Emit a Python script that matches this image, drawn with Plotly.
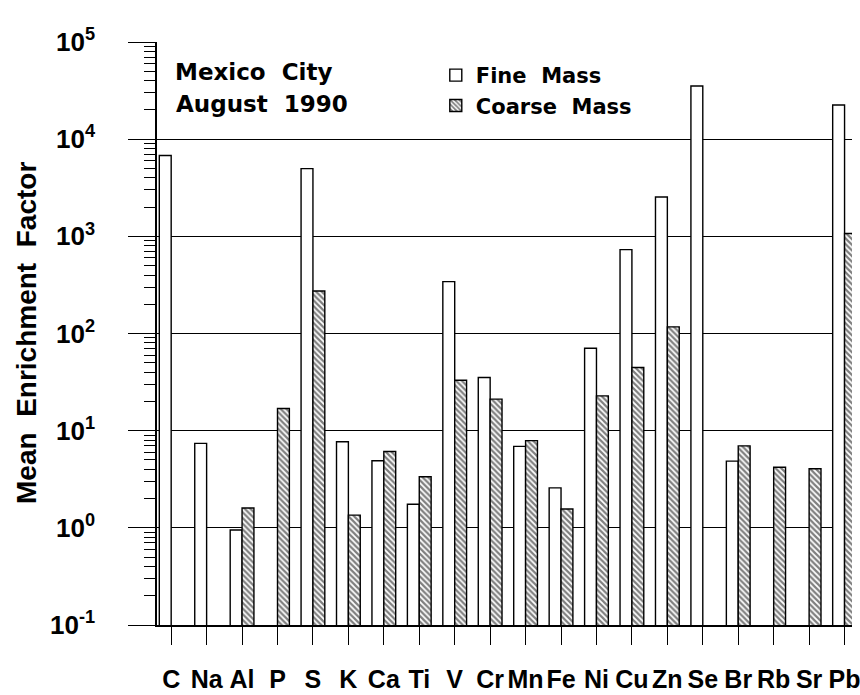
import plotly.graph_objects as go

elements = ["C", "Na", "Al", "P", "S", "K", "Ca", "Ti", "V", "Cr",
            "Mn", "Fe", "Ni", "Cu", "Zn", "Se", "Br", "Rb", "Sr", "Pb"]
fine_mass = [6800, 7.4, 0.95, None, 4970, 7.7, 4.9, 1.75, 342, 35.2,
             6.9, 2.58, 70.6, 730, 2540, 35300, 4.86, None, None, 22500]
coarse_mass = [None, None, 1.6, 16.9, 274, 1.35, 6.1, 3.35, 33, 21.1,
               7.9, 1.56, 22.8, 44.6, 117, None, 6.98, 4.2, 4.05, 1070]

major_vals = [0.1, 1, 10, 100, 1000, 10000, 100000]
major_text = ["10<sup>-1</sup>", "10<sup>0</sup>", "10<sup>1</sup>", "10<sup>2</sup>",
              "10<sup>3</sup>", "10<sup>4</sup>", "10<sup>5</sup>"]
minor_vals = [m * d for d in [0.1, 1, 10, 100, 1000, 10000] for m in range(2, 10)]

W, H = 860, 695
L, R, T, B = 157, 0, 42, 70
pw, ph = W - L - R, H - T - B
def px(x): return (x - L) / pw
def py(y): return (H - B - y) / ph

BOLD = "Liberation Sans"
LEG = "DejaVu Sans"

fig = go.Figure()
fig.add_trace(go.Bar(
    x=elements, y=fine_mass, name="Fine  Mass", legendgroup="a",
    marker=dict(color="white", line=dict(color="black", width=1.4)),
))
fig.add_trace(go.Bar(
    x=elements, y=coarse_mass, name="Coarse  Mass", legendgroup="b",
    marker=dict(color="white", line=dict(color="black", width=1.4),
                pattern=dict(shape="\\", fgcolor="black", bgcolor="white",
                             size=4, solidity=0.55)),
))

fig.update_layout(
    width=W, height=H,
    margin=dict(l=L, r=R, t=T, b=B, pad=0),
    paper_bgcolor="white", plot_bgcolor="white",
    barmode="group", bargap=0.33, bargroupgap=0,
    showlegend=True,
    legend=dict(x=px(439), y=py(55), xanchor="left", yanchor="top",
                bgcolor="rgba(0,0,0,0)", borderwidth=0,
                font=dict(family=LEG, size=21, color="black", weight="bold"),
                tracegroupgap=3, traceorder="normal"),
    xaxis=dict(type="category", range=[-0.40, 19.21],
               showline=True, linecolor="black", linewidth=1.5,
               tickmode="array", tickvals=elements, ticktext=elements,
               tickangle=0,
               ticks="outside", ticklen=18, tickwidth=1.2, tickcolor="black",
               showgrid=False, zeroline=False,
               ticklabelstandoff=13,
               tickfont=dict(family=BOLD, size=25, color="black", weight="bold")),
    yaxis=dict(type="log", range=[-1, 5],
               showline=True, linecolor="black", linewidth=1.5,
               tickmode="array", tickvals=major_vals, ticktext=major_text,
               ticks="outside", ticklen=27, tickwidth=1.3, tickcolor="black",
               showgrid=True, gridcolor="black", gridwidth=1.3,
               zeroline=False, ticklabelstandoff=28,
               minor=dict(tickmode="array", tickvals=minor_vals, ticks="outside",
                          ticklen=11, tickwidth=1, tickcolor="black", showgrid=False),
               tickfont=dict(family=BOLD, size=26, color="black", weight="bold")),
    annotations=[
        dict(text="Mexico  City", x=px(173), y=py(72.5), xref="paper", yref="paper",
             xanchor="left", yanchor="middle", showarrow=False,
             font=dict(family=LEG, size=23, color="black", weight="bold")),
        dict(text="August  1990", x=px(174), y=py(103.5), xref="paper", yref="paper",
             xanchor="left", yanchor="middle", showarrow=False,
             font=dict(family=LEG, size=23, color="black", weight="bold")),
        dict(text="Mean  Enrichment  Factor", x=px(25), y=0.5, xref="paper", yref="paper",
             xanchor="center", yanchor="middle", showarrow=False, textangle=-90,
             font=dict(family=BOLD, size=28, color="black", weight="bold")),
    ],
)

fig.write_html("out.html")
